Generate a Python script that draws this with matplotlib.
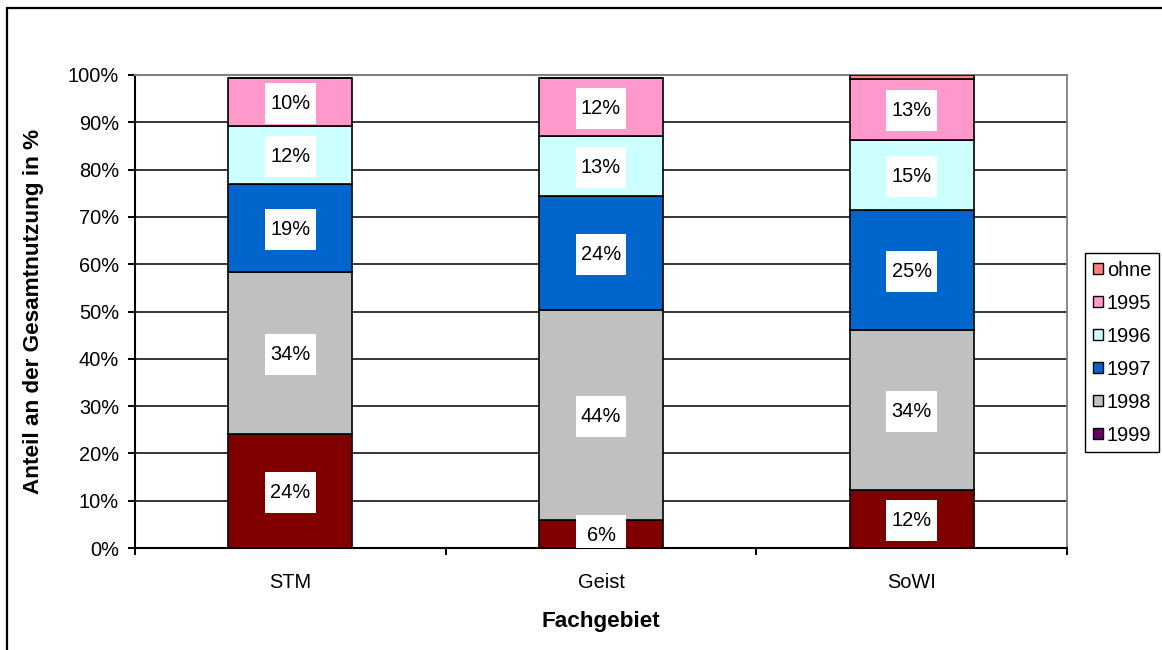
import matplotlib
matplotlib.use("Agg")
import matplotlib.pyplot as plt
from matplotlib.patches import Rectangle, Patch
import numpy as np

plt.rcParams['font.family'] = ['Liberation Sans', 'DejaVu Sans']

categories = ["STM", "Geist", "SoWI"]
series_names = ["1999", "1998", "1997", "1996", "1995", "ohne"]
share_1999 = [24.1, 5.9, 12.3]
share_1998 = [34.3, 44.4, 33.8]
share_1997 = [18.6, 24.1, 25.4]
share_1996 = [12.2, 12.7, 14.8]
share_1995 = [10.2, 12.3, 12.9]
share_ohne = [0.0, 0.0, 0.8]
y_ticks = [0, 10, 20, 30, 40, 50, 60, 70, 80, 90, 100]
y_tick_labels = [f"{v}%" for v in y_ticks]

series_values = [share_1999, share_1998, share_1997, share_1996, share_1995, share_ohne]
bar_colors = ["#800000", "#C0C0C0", "#0066CC", "#CCFFFF", "#FF99CC", "#FF8080"]
legend_colors = {"ohne": "#FF8080", "1995": "#FF99CC", "1996": "#CCFFFF",
                 "1997": "#0066CC", "1998": "#C0C0C0", "1999": "#660066"}

FS = 14.4
FS_TITLE = 16.2
W, H = 1162, 650
fig = plt.figure(figsize=(W / 100, H / 100), dpi=100)
ax = fig.add_axes([135 / W, (H - 548) / H, (1067 - 135) / W, (548 - 75) / H])

x = np.arange(len(categories))
bar_w = 0.4
bottom = np.zeros(len(categories))
for name, vals, col in zip(series_names, series_values, bar_colors):
    vals = np.array(vals)
    ax.bar(x, vals, bar_w, bottom=bottom, color=col, edgecolor="black",
           linewidth=1.2, zorder=3)
    for xi, b, v in zip(x, bottom, vals):
        if v >= 1:
            cy = b + v / 2
            bw, bh = 0.164, 8.7
            ax.add_patch(Rectangle((xi - bw / 2, cy - bh / 2 - 0.3), bw, bh,
                                   facecolor="white", edgecolor="none",
                                   zorder=4, clip_on=True))
            ax.text(xi, max(cy - 0.3, 1.7), f"{v:.0f}%", ha="center", va="center",
                    fontsize=FS, zorder=5)
    bottom = bottom + vals

ax.set_xlim(-0.5, 2.5)
ax.set_ylim(0, 100)
ax.set_yticks(y_ticks)
ax.set_yticklabels(y_tick_labels, fontsize=FS)
ax.set_xticks(x)
ax.set_xticklabels(categories, fontsize=FS)
ax.set_xticks([-0.5, 0.5, 1.5, 2.5], minor=True)
ax.tick_params(axis="x", which="major", length=0, pad=18)
ax.tick_params(axis="x", which="minor", length=5, width=1.4, direction="out")
ax.tick_params(axis="y", length=5, width=1.4, pad=6.5)

for yv in y_ticks[1:-1]:
    ax.axhline(yv, color="black", linewidth=1.1, zorder=1)

ax.spines["left"].set_linewidth(1.5)
ax.spines["bottom"].set_linewidth(1.5)
ax.spines["top"].set_color("#808080")
ax.spines["top"].set_linewidth(1.5)
ax.spines["right"].set_color("#808080")
ax.spines["right"].set_linewidth(1.3)
for s in ax.spines.values():
    s.set_zorder(2)

ax.set_ylabel("Anteil an der Gesamtnutzung in %", fontsize=FS_TITLE,
              fontweight="bold", va="center")
ax.yaxis.set_label_coords(-0.109, 0.5)
ax.set_xlabel("Fachgebiet", fontsize=FS_TITLE, fontweight="bold", va="center")
ax.xaxis.set_label_coords(0.5, -0.156)

handles = [Patch(facecolor=legend_colors[n], edgecolor="black", linewidth=1.0, label=n)
           for n in ["ohne", "1995", "1996", "1997", "1998", "1999"]]
leg = fig.legend(handles=handles, loc="upper left",
                 bbox_to_anchor=(1085 / W, 1 - 253 / H), fontsize=FS,
                 frameon=True, fancybox=False, shadow=False, framealpha=1,
                 edgecolor="black", handlelength=0.5, handleheight=0.5,
                 handletextpad=0.22, labelspacing=0.7, borderpad=0.38,
                 borderaxespad=0)
leg.get_frame().set_linewidth(1.0)

# outer chart frame
fig.add_artist(Rectangle((7 / W, -0.1), 1.5, 0.1 + 1 - 8 / H, transform=fig.transFigure,
                         facecolor="none", edgecolor="black", linewidth=1.6,
                         clip_on=False))

fig.savefig("out.png", dpi=100)
